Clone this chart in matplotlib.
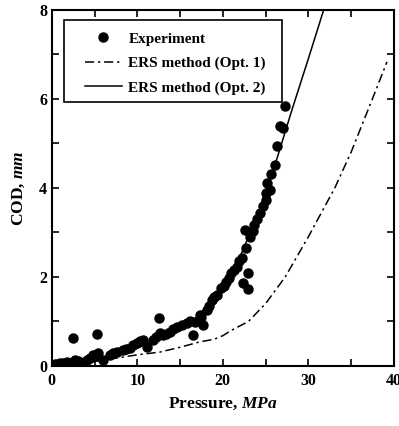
import matplotlib
matplotlib.use("Agg")
import matplotlib.pyplot as plt
from matplotlib.patches import Rectangle
from matplotlib.ticker import MultipleLocator

plt.rcParams['font.family'] = ['Liberation Serif', 'DejaVu Serif']
plt.rcParams['font.weight'] = 'bold'
plt.rcParams['mathtext.fontset'] = 'custom'
plt.rcParams['mathtext.it'] = 'Liberation Serif:italic:bold'
plt.rcParams['mathtext.rm'] = 'Liberation Serif:bold'

# Experimental crack opening displacement
exp_p = [0.1, 0.7, 1.3, 2.1, 2.7, 3.3, 4.1, 4.8, 5.4, 6.0, 6.8, 7.6, 8.3, 9.1, 9.9,
         10.7, 11.1, 11.8, 12.6, 13.0, 13.8, 14.6, 15.8, 16.5, 17.3, 17.5, 17.7, 18.1,
         18.7, 19.3, 19.8, 20.4, 21.0, 21.6, 22.2, 23.2, 23.7, 24.3, 25.1, 25.0, 25.2,
         25.5, 25.6, 26.1, 26.3, 26.7, 27.0, 27.3,
         2.5, 5.3, 12.5, 22.6, 22.9, 22.3, 23.0,
         0.4, 1.0, 1.8, 3.0, 4.5, 5.1, 7.2, 8.7, 9.5, 10.3, 12.2, 13.4, 14.2, 15.2, 16.2,
         16.8, 18.4, 19.0, 20.1, 20.7, 21.3, 21.9, 22.7, 23.5, 24.0, 24.7]
exp_cod = [0.02, 0.05, 0.07, 0.07, 0.13, 0.09, 0.13, 0.25, 0.29, 0.13, 0.25, 0.32, 0.36,
           0.40, 0.52, 0.58, 0.43, 0.58, 0.74, 0.70, 0.77, 0.88, 0.97, 0.70, 1.15, 1.10,
           0.92, 1.26, 1.48, 1.60, 1.75, 1.89, 2.09, 2.23, 2.43, 2.90, 3.17, 3.44, 3.73,
           3.89, 4.11, 3.96, 4.31, 4.52, 4.94, 5.39, 5.35, 5.84,
           0.63, 0.72, 1.08, 3.06, 2.09, 1.87, 1.73,
           0.04, 0.06, 0.08, 0.12, 0.18, 0.22, 0.28, 0.38, 0.46, 0.55, 0.66, 0.72, 0.82,
           0.92, 1.0, 0.98, 1.35, 1.55, 1.80, 1.98, 2.15, 2.35, 2.65, 3.02, 3.30, 3.60]

# ERS method, option 1
opt1_p = [0, 5, 10, 12.6, 15, 17.3, 19, 20, 21, 23, 25, 27.3, 30, 33.1, 35, 37.5, 39.2]
opt1_cod = [0, 0.1, 0.25, 0.31, 0.42, 0.54, 0.6, 0.68, 0.8, 1.0, 1.4, 2.0, 2.9, 4.0,
            4.8, 6.0, 6.83]

# ERS method, option 2
opt2_p = [0, 5, 10, 15, 17, 20, 22, 24, 26, 28, 30, 31.8]
opt2_cod = [0, 0.12, 0.4, 0.85, 1.1, 1.75, 2.45, 3.35, 4.45, 5.7, 6.9, 8.0]

fig = plt.figure(figsize=(3.99, 4.26), dpi=100)
ax = fig.add_axes([0.130, 0.141, 0.857, 0.836])

ax.plot(exp_p, exp_cod, 'o', color='black', markersize=6.5, label='Experiment',
        zorder=3)
ax.plot(opt1_p, opt1_cod, color='black', lw=1.1, dashes=(6, 2.5, 1.5, 2.5),
        label='ERS method (Opt. 1)')
ax.plot(opt2_p, opt2_cod, color='black', lw=1.1, label='ERS method (Opt. 2)')

ax.set_xlim(0, 40)
ax.set_ylim(0, 8)
ax.xaxis.set_major_locator(MultipleLocator(10))
ax.xaxis.set_minor_locator(MultipleLocator(5))
ax.yaxis.set_major_locator(MultipleLocator(2))
ax.yaxis.set_minor_locator(MultipleLocator(1))
ax.tick_params(which='both', direction='in', top=True, right=True, width=1.2,
               labelsize=11.5, length=5)
ax.tick_params(axis='x', pad=5)
for s in ax.spines.values():
    s.set_linewidth(1.5)

ax.set_xlabel(r'Pressure, $\mathit{MPa}$', fontsize=12.5, fontweight='bold', labelpad=5)
ax.set_ylabel(r'COD, $\mathit{mm}$', fontsize=12.5, fontweight='bold', labelpad=9)

# legend entries without frame, boxed by a plain rectangle
leg = ax.legend(loc='upper left', bbox_to_anchor=(0.0965, 0.938), frameon=False,
                fontsize=11, handlelength=2.4, borderpad=0, labelspacing=0.7,
                handletextpad=0.45, borderaxespad=0)
leg.set_zorder(5)
ax.add_patch(Rectangle((0.035, 0.742), 0.638, 0.230, transform=ax.transAxes,
                       facecolor='white', edgecolor='black', lw=1.2, zorder=4))

fig.savefig('out.png', dpi=100)
